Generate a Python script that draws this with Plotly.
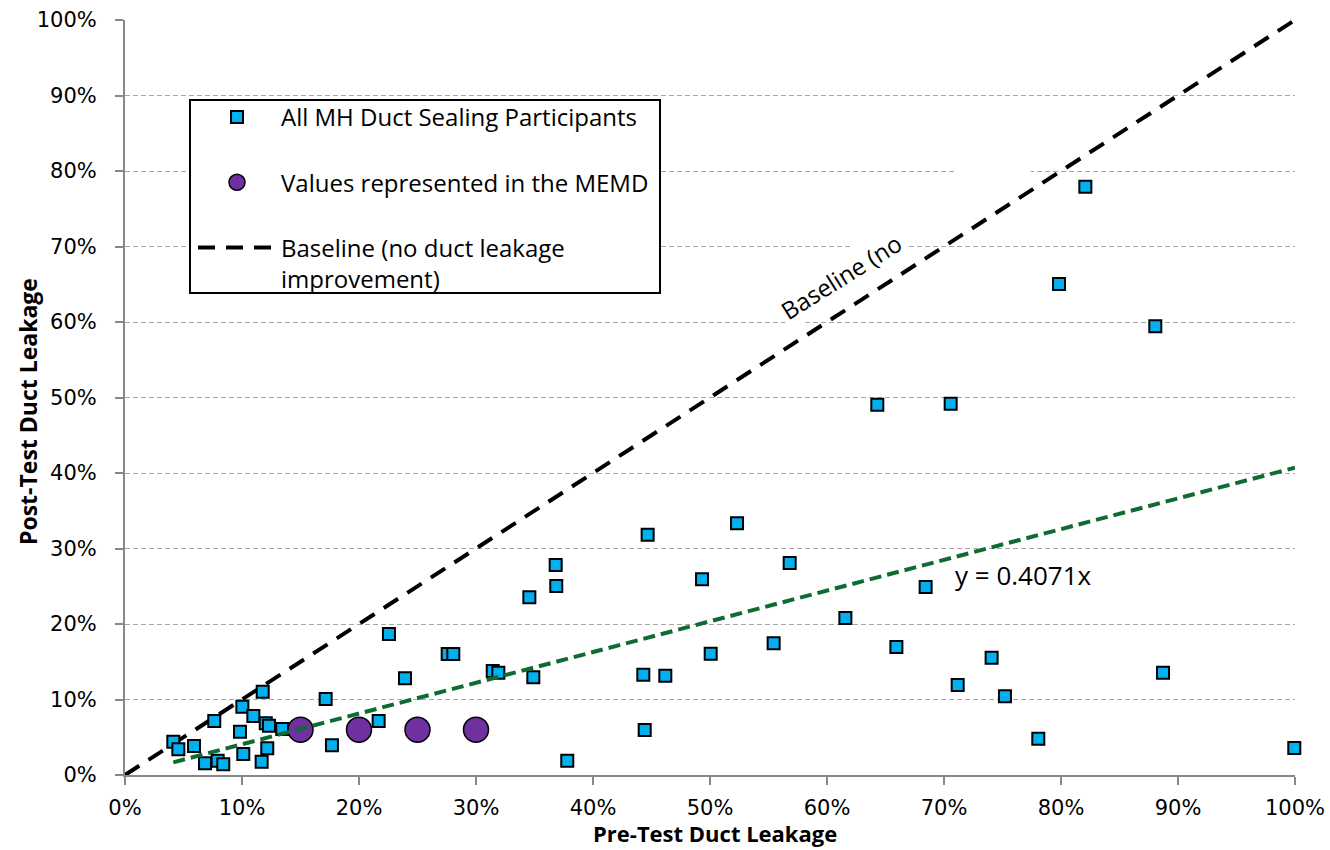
import plotly.graph_objects as go

# ---- data (percent) ----
participants_pre = [4.13, 4.56, 5.90, 6.84, 7.92, 8.40, 7.63, 9.83, 10.03, 10.97, 11.77, 12.03,
                    12.31, 10.11, 12.16, 11.68, 13.44, 17.15, 17.69, 21.68, 22.56, 23.93, 27.58,
                    28.06, 31.43, 31.91, 34.56, 34.90, 36.81, 36.86, 37.80, 44.30, 44.42, 44.67,
                    46.18, 49.32, 50.06, 52.31, 55.44, 56.81, 61.57, 64.30, 65.93, 68.43, 70.57,
                    71.17, 74.07, 75.21, 78.06, 79.83, 82.08, 88.06, 88.72, 99.94]
participants_post = [4.41, 3.40, 3.84, 1.55, 1.89, 1.42, 7.15, 5.74, 9.05, 7.81, 11.03, 6.85,
                     6.53, 2.78, 3.54, 1.76, 6.09, 10.07, 3.93, 7.15, 18.68, 12.81, 16.03,
                     16.03, 13.77, 13.55, 23.54, 12.94, 27.81, 25.03, 1.89, 13.29, 5.96, 31.83,
                     13.16, 25.92, 16.07, 33.34, 17.44, 28.08, 20.79, 49.05, 16.95, 24.90, 49.18,
                     11.92, 15.54, 10.42, 4.81, 65.03, 77.92, 59.43, 13.55, 3.58]

memd_pre = [15, 20, 25, 30]
memd_post = [6, 6, 6, 6]

baseline_x = [0, 100]
baseline_y = [0, 100]

trend_slope = 0.4071
trend_x = [min(participants_pre), 100]
trend_y = [trend_slope * v for v in trend_x]

tick_vals = [0, 10, 20, 30, 40, 50, 60, 70, 80, 90, 100]
tick_text = [f"{v}%" for v in tick_vals]

LEG_FONT = "Open Sans"
TICK_FONT = "DejaVu Sans"

# plot-area geometry (pixels) used to place paper-referenced boxes
W, H = 1330, 850
ML, MR, MT, MB = 125, 35, 20, 75
PW, PH = W - ML - MR, H - MT - MB


def px_x(p):
    return (p - ML) / PW


def px_y(p):
    return (H - MB - p) / PH


fig = go.Figure()

fig.add_trace(go.Scatter(
    x=baseline_x, y=baseline_y, mode="lines",
    name="Baseline (no duct leakage<br>improvement)",
    line=dict(color="black", width=4, dash="17px,11px"),
    legendgroup="c", legendrank=3, hoverinfo="skip"))

fig.add_trace(go.Scatter(
    x=participants_pre, y=participants_post, mode="markers",
    name="All MH Duct Sealing Participants",
    marker=dict(symbol="square", size=12, color="#00B0F0",
                line=dict(color="black", width=2)),
    legendgroup="a", legendrank=1, cliponaxis=False))

fig.add_trace(go.Scatter(
    x=memd_pre, y=memd_post, mode="markers",
    name="Values represented in the MEMD",
    marker=dict(symbol="circle", size=25, color="#7030A0",
                line=dict(color="black", width=1.5)),
    legendgroup="b", legendrank=2, cliponaxis=False))

fig.add_trace(go.Scatter(
    x=trend_x, y=trend_y, mode="lines", showlegend=False,
    line=dict(color="#0F6B32", width=4, dash="12px,6px"), hoverinfo="skip"))

axis_common = dict(
    range=[0, 100], tickvals=tick_vals, ticktext=tick_text,
    showline=True, linecolor="#888888", linewidth=2,
    ticks="outside", ticklen=8, tickwidth=2, tickcolor="#888888",
    tickfont=dict(family=TICK_FONT, size=21, color="black"),
    zeroline=False, fixedrange=True, automargin=False,
)

fig.update_xaxes(**axis_common, showgrid=False, ticklabelstandoff=5)
fig.update_yaxes(**axis_common, showgrid=True, gridcolor="#A6A6A6", gridwidth=1,
                 griddash="5px,3px", ticklabelstandoff=14)

# white gap in the 80% gridline
fig.add_shape(type="rect", xref="x", yref="y", x0=70.9, x1=77.4, y0=79.3, y1=80.7,
              fillcolor="white", line=dict(width=0), layer="between")

# legend frame
fig.add_shape(type="rect", xref="paper", yref="paper",
              x0=px_x(190), x1=px_x(660), y0=px_y(293), y1=px_y(100),
              fillcolor="white", line=dict(color="black", width=2), layer="above")

fig.add_annotation(x=70.8, y=26.5, xref="x", yref="y", text="y = 0.4071x",
                   showarrow=False, xanchor="left", yanchor="middle",
                   font=dict(family=LEG_FONT, size=26, color="black"))

fig.add_annotation(x=61.2, y=66.0, xref="x", yref="y", text="Baseline (no",
                   showarrow=False, xanchor="center", yanchor="middle", textangle=-32,
                   bgcolor="white", borderpad=3,
                   font=dict(family=LEG_FONT, size=24, color="black"))

fig.add_annotation(x=px_x(715), y=px_y(833), xref="paper", yref="paper",
                   text="<b>Pre-Test Duct Leakage</b>", showarrow=False,
                   xanchor="center", yanchor="middle",
                   font=dict(family=LEG_FONT, size=22, color="black"))

fig.add_annotation(x=px_x(28), y=px_y(412), xref="paper", yref="paper",
                   text="<b>Post-Test Duct Leakage</b>", showarrow=False, textangle=-90,
                   xanchor="center", yanchor="middle",
                   font=dict(family=LEG_FONT, size=23, color="black"))

fig.update_layout(
    width=W, height=H,
    margin=dict(l=ML, r=MR, t=MT, b=MB),
    paper_bgcolor="white", plot_bgcolor="white",
    showlegend=True,
    legend=dict(x=px_x(193), y=px_y(95), xanchor="left", yanchor="top",
                bgcolor="rgba(0,0,0,0)", borderwidth=0,
                font=dict(family=LEG_FONT, size=24, color="black"),
                itemwidth=78, tracegroupgap=31, valign="top",
                traceorder="grouped"),
    hovermode=False,
)

fig.write_html("out.html")
